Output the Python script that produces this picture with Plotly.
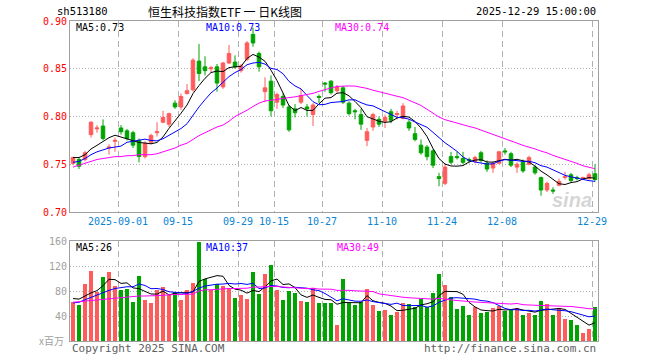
import plotly.graph_objects as go
import pandas as pd

# ---------------- data ----------------
dates = [
    "2025-08-20", "2025-08-21", "2025-08-22", "2025-08-25", "2025-08-26", "2025-08-27", "2025-08-28", "2025-08-29",
    "2025-09-01", "2025-09-02", "2025-09-03", "2025-09-04", "2025-09-05", "2025-09-08", "2025-09-09", "2025-09-10",
    "2025-09-11", "2025-09-12", "2025-09-15", "2025-09-16", "2025-09-17", "2025-09-18", "2025-09-19", "2025-09-22",
    "2025-09-23", "2025-09-24", "2025-09-25", "2025-09-26", "2025-09-29", "2025-09-30",
    "2025-10-09", "2025-10-10", "2025-10-13", "2025-10-14", "2025-10-15", "2025-10-16", "2025-10-17", "2025-10-20",
    "2025-10-21", "2025-10-22", "2025-10-23", "2025-10-24", "2025-10-27", "2025-10-28", "2025-10-29", "2025-10-30",
    "2025-10-31",
    "2025-11-03", "2025-11-04", "2025-11-05", "2025-11-06", "2025-11-07", "2025-11-10", "2025-11-11", "2025-11-12",
    "2025-11-13", "2025-11-14", "2025-11-17", "2025-11-18", "2025-11-19", "2025-11-20", "2025-11-21", "2025-11-24",
    "2025-11-25", "2025-11-26", "2025-11-27", "2025-11-28",
    "2025-12-01", "2025-12-02", "2025-12-03", "2025-12-04", "2025-12-05", "2025-12-08", "2025-12-09", "2025-12-10",
    "2025-12-11", "2025-12-12", "2025-12-15", "2025-12-16", "2025-12-17", "2025-12-18", "2025-12-19", "2025-12-22",
    "2025-12-23", "2025-12-24", "2025-12-25", "2025-12-26", "2025-12-29",
]

open_ = [0.751, 0.755, 0.755, 0.781, 0.787, 0.790, 0.767, 0.774, 0.788, 0.785,
         0.783, 0.775, 0.758, 0.773, 0.783, 0.794, 0.792, 0.814, 0.810, 0.824,
         0.828, 0.858, 0.852, 0.850, 0.852, 0.831, 0.856, 0.857, 0.848, 0.860,
         0.886, 0.866, 0.826, 0.837, 0.815, 0.821, 0.810, 0.808, 0.815, 0.810,
         0.802, 0.821, 0.835, 0.837, 0.827, 0.830, 0.814, 0.806, 0.802, 0.775,
         0.789, 0.797, 0.795, 0.805, 0.802, 0.798, 0.794, 0.782, 0.770, 0.768,
         0.764, 0.737, 0.730, 0.758, 0.758, 0.756, 0.755, 0.753, 0.762, 0.751,
         0.746, 0.751, 0.764, 0.761, 0.747, 0.752, 0.750, 0.747, 0.736, 0.723,
         0.723, 0.728, 0.736, 0.739, 0.736, 0.735, 0.735, 0.740]
high = [0.758, 0.757, 0.764, 0.795, 0.791, 0.797, 0.771, 0.778, 0.791, 0.787,
        0.785, 0.777, 0.774, 0.782, 0.794, 0.806, 0.804, 0.817, 0.824, 0.834,
        0.861, 0.876, 0.863, 0.853, 0.855, 0.857, 0.875, 0.864, 0.855, 0.879,
        0.893, 0.868, 0.841, 0.843, 0.825, 0.824, 0.812, 0.813, 0.829, 0.813,
        0.814, 0.823, 0.836, 0.838, 0.833, 0.832, 0.816, 0.808, 0.808, 0.788,
        0.804, 0.800, 0.802, 0.808, 0.806, 0.814, 0.797, 0.789, 0.776, 0.770,
        0.766, 0.741, 0.751, 0.763, 0.763, 0.763, 0.757, 0.759, 0.764, 0.754,
        0.753, 0.764, 0.767, 0.763, 0.752, 0.755, 0.759, 0.749, 0.737, 0.732,
        0.726, 0.735, 0.742, 0.741, 0.738, 0.737, 0.741, 0.750]
low = [0.749, 0.745, 0.753, 0.778, 0.783, 0.775, 0.760, 0.763, 0.781, 0.775,
       0.767, 0.752, 0.756, 0.771, 0.779, 0.793, 0.789, 0.808, 0.807, 0.823,
       0.826, 0.837, 0.843, 0.846, 0.826, 0.829, 0.855, 0.850, 0.846, 0.858,
       0.873, 0.847, 0.815, 0.800, 0.808, 0.809, 0.784, 0.799, 0.813, 0.800,
       0.790, 0.814, 0.826, 0.823, 0.825, 0.813, 0.801, 0.797, 0.786, 0.769,
       0.785, 0.789, 0.788, 0.793, 0.797, 0.797, 0.785, 0.774, 0.760, 0.754,
       0.746, 0.727, 0.728, 0.750, 0.755, 0.750, 0.751, 0.751, 0.752, 0.742,
       0.741, 0.750, 0.760, 0.747, 0.741, 0.741, 0.749, 0.739, 0.717, 0.721,
       0.719, 0.727, 0.734, 0.731, 0.733, 0.734, 0.734, 0.732]
close = [0.757, 0.748, 0.762, 0.794, 0.788, 0.777, 0.768, 0.775, 0.784, 0.777,
         0.770, 0.758, 0.772, 0.780, 0.784, 0.799, 0.803, 0.810, 0.821, 0.827,
         0.859, 0.845, 0.848, 0.851, 0.835, 0.856, 0.866, 0.852, 0.853, 0.877,
         0.877, 0.852, 0.830, 0.806, 0.823, 0.812, 0.786, 0.804, 0.822, 0.808,
         0.812, 0.820, 0.834, 0.825, 0.831, 0.815, 0.803, 0.805, 0.792, 0.784,
         0.802, 0.792, 0.799, 0.796, 0.803, 0.811, 0.788, 0.776, 0.762, 0.758,
         0.749, 0.735, 0.747, 0.752, 0.757, 0.752, 0.754, 0.757, 0.754, 0.745,
         0.751, 0.763, 0.763, 0.749, 0.750, 0.743, 0.757, 0.741, 0.723, 0.730,
         0.722, 0.732, 0.737, 0.733, 0.735, 0.736, 0.739, 0.734]
volume = [63, 58, 91, 112, 79, 102, 110, 88, 82, 83,
          62, 104, 66, 61, 82, 86, 74, 79, 66, 81,
          93, 158, 99, 82, 91, 88, 85, 69, 74, 67,
          110, 75, 107, 122, 82, 66, 80, 77, 64, 62,
          85, 61, 61, 61, 26, 99, 61, 58, 62, 83,
          58, 48, 50, 41, 46, 61, 59, 55, 68, 55,
          77, 107, 90, 70, 51, 56, 42, 54, 45, 46,
          53, 56, 48, 49, 53, 42, 45, 42, 64, 59,
          42, 53, 35, 34, 26, 13, 19, 54]

ma5_head = [0.757, 0.757, 0.760, 0.766]
ma10_head = [0.752, 0.753, 0.756, 0.760, 0.763, 0.765, 0.767, 0.768, 0.769]
ma30_head = [0.747, 0.749, 0.751, 0.753, 0.755, 0.756, 0.757, 0.758, 0.758, 0.759,
             0.759, 0.760, 0.760, 0.760, 0.761, 0.763, 0.765, 0.767, 0.770, 0.772,
             0.776, 0.780, 0.783, 0.786, 0.789, 0.791, 0.795, 0.800, 0.803]
vma5_head = [68, 67, 72, 77]
vma10_head = [61, 62, 66, 70, 74, 77, 81, 84, 86]
vma30_head = [62, 63, 64, 65, 66, 67, 68, 69, 70, 70,
              71, 72, 72, 72, 73, 73, 74, 74, 74, 74,
              75, 80, 82, 82, 83, 84, 84, 84, 84]

tick_dates = ["2025-09-01", "2025-09-15", "2025-09-29", "2025-10-15", "2025-10-27",
              "2025-11-10", "2025-11-24", "2025-12-08", "2025-12-29"]
tick_labels = ["2025-09-01", "09-15", "09-29", "10-15", "10-27", "11-10", "11-24", "12-08", "12-29"]
price_ticks = [0.70, 0.75, 0.80, 0.85, 0.90]
vol_ticks = [40, 80, 120, 160]

code_label = "sh513180"
title_label = "恒生科技指数ETF 一 日K线图"
time_label = "2025-12-29 15:00:00"
price_ma_labels = ["MA5:0.73", "MA10:0.73", "MA30:0.74"]
vol_ma_labels = ["MA5:26", "MA10:37", "MA30:49"]
unit_label = "x百万"
copyright_label = "Copyright 2025 SINA.COM"
url_label = "http://finance.sina.com.cn"


# ---------------- helpers ----------------
def moving_avg(values, n, head):
    s = pd.Series(values, dtype=float).rolling(n).mean().tolist()
    return list(head) + s[len(head):]


idx = list(range(len(dates)))
ma5 = moving_avg(close, 5, ma5_head)
ma10 = moving_avg(close, 10, ma10_head)
ma30 = moving_avg(close, 30, ma30_head)
vma5 = moving_avg(volume, 5, vma5_head)
vma10 = moving_avg(volume, 10, vma10_head)
vma30 = moving_avg(volume, 30, vma30_head)

UP = "#ff5b5b"
DOWN = "#00a400"
MONO = "DejaVu Sans Mono"

fig = go.Figure()
fig.add_trace(go.Candlestick(
    x=idx, open=open_, high=high, low=low, close=close,
    increasing=dict(line=dict(color=UP, width=1), fillcolor=UP),
    decreasing=dict(line=dict(color=DOWN, width=1), fillcolor=DOWN),
    whiskerwidth=0, hoverinfo="skip", xaxis="x", yaxis="y"))
for ys, col in [(ma5, "#000000"), (ma10, "#0000ff"), (ma30, "#ff00ff")]:
    fig.add_trace(go.Scatter(x=idx, y=ys, mode="lines", line=dict(color=col, width=1),
                             hoverinfo="skip", xaxis="x", yaxis="y"))

bar_colors = [UP if c >= o else DOWN for o, c in zip(open_, close)]
fig.add_trace(go.Bar(x=idx, y=volume, marker=dict(color=bar_colors, line=dict(width=0)),
                     width=0.82, hoverinfo="skip", xaxis="x2", yaxis="y2"))
for ys, col in [(vma5, "#000000"), (vma10, "#0000ff"), (vma30, "#ff00ff")]:
    fig.add_trace(go.Scatter(x=idx, y=ys, mode="lines", line=dict(color=col, width=1),
                             hoverinfo="skip", xaxis="x2", yaxis="y2"))

# plot area in pixels: x 70..598, price y 21..212, volume y 241..341
L, R, T, B = 70, 598, 21, 341
W, H = 660, 360


def px(x):
    return (x - L) / (R - L)


def py(y):
    return (B - y) / (B - T)


tickpos = [dates.index(d) - 0.5 for d in tick_dates]
xr = [-0.5, len(dates) - 0.5]
common_x = dict(range=xr, tickmode="array", tickvals=tickpos, showgrid=True,
                gridcolor="#b0b0b0", griddash="6px,4px", gridwidth=1,
                showline=True, mirror=True, linecolor="#a0a0a0", linewidth=1,
                zeroline=False, ticks="", fixedrange=True)

fig.update_layout(
    width=W, height=H,
    margin=dict(l=L, r=W - R, t=T, b=H - B),
    paper_bgcolor="white", plot_bgcolor="white",
    showlegend=False, boxgap=0.16, bargap=0,
    xaxis=dict(common_x, anchor="y", ticktext=tick_labels, rangeslider=dict(visible=False),
               tickfont=dict(family=MONO, size=10, color="#0a84d6")),
    xaxis2=dict(common_x, anchor="y2", showticklabels=False),
    yaxis=dict(domain=[py(212), 1], range=[0.70, 0.90], tickmode="array", tickvals=price_ticks,
               ticktext=["%.2f" % v for v in price_ticks],
               tickfont=dict(family=MONO, size=10, color="#ff0000"),
               showgrid=True, gridcolor="#b0b0b0", griddash="1px,2px",
               showline=True, mirror=True, linecolor="#a0a0a0", zeroline=False,
               ticks="", fixedrange=True),
    yaxis2=dict(domain=[0, py(241)], range=[0, 160], tickmode="array", tickvals=vol_ticks,
                ticktext=[str(v) for v in vol_ticks],
                tickfont=dict(family=MONO, size=10, color="#a0a0a0"),
                showgrid=True, gridcolor="#b0b0b0", griddash="1px,2px",
                showline=True, mirror=True, linecolor="#a0a0a0", zeroline=False,
                ticks="", fixedrange=True),
)


def note(text, x, y, xanchor="left", size=10, color="#000", family=MONO):
    fig.add_annotation(text=text, x=px(x), y=py(y), xref="paper", yref="paper",
                       xanchor=xanchor, yanchor="middle", showarrow=False,
                       font=dict(family=family, size=size, color=color))


note(code_label, 55, 11, size=10.5)
note(title_label, 225, 11, xanchor="center", size=12, family="Noto Sans CJK SC")
note(time_label, 598, 11, xanchor="right", size=10.5)
for lab, x, col in zip(price_ma_labels, [74, 204, 333], ["#000000", "#0000ff", "#ff00ff"]):
    note(lab, x, 27, color=col)
for lab, x, col in zip(vol_ma_labels, [74, 204, 335], ["#000000", "#0000ff", "#ff00ff"]):
    note(lab, x, 247, color=col)
note(unit_label, 66, 340, xanchor="right", size=10, color="#a0a0a0", family="Noto Sans CJK SC")
note(copyright_label, 70, 348, size=11, color="#606060")
note(url_label, 598, 348, xanchor="right", size=11, color="#606060")
note("<b><i>sina</i></b>", 572, 200, xanchor="center", size=20, color="rgba(200,200,200,0.75)",
     family="Liberation Sans")

fig.write_html("out.html", config={"displayModeBar": False, "staticPlot": True},
               post_script="document.body.style.margin='0px';document.body.style.overflow='hidden';")
